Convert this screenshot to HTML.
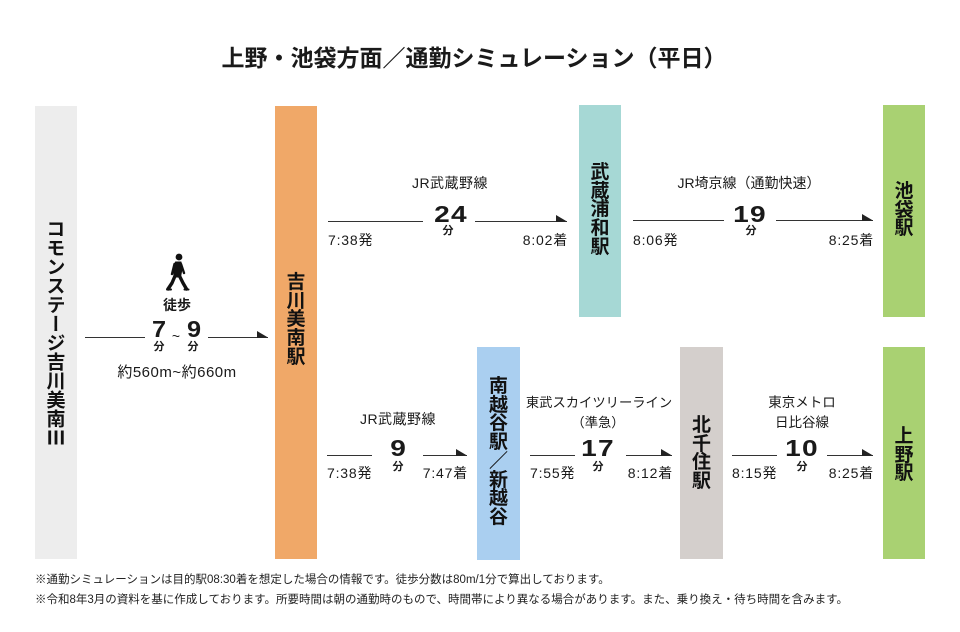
<!DOCTYPE html>
<html><head><meta charset="utf-8">
<style>
*{margin:0;padding:0;box-sizing:border-box}
html,body{width:960px;height:632px;background:#fff;overflow:hidden}
body{position:relative;font-family:"Liberation Sans","Noto Sans CJK JP",sans-serif;color:#1a1a1a}
.a{position:absolute;white-space:nowrap}
.bar{position:absolute}
.vt{position:absolute;text-align:center;font-weight:bold;font-size:19px;line-height:18.7px;color:#111}
.c{transform:translateX(-50%)}
.r{transform:translateX(-100%)}
.lb{font-size:14px;line-height:14px;letter-spacing:0.5px}
.tm{font-size:14px;line-height:14px;letter-spacing:0.8px}
.num{font-size:23px;line-height:23px;font-weight:bold;letter-spacing:1px;transform:translateX(-50%) scaleX(1.22)}
.fn{font-size:11px;line-height:11px;font-weight:bold}
.note{font-size:11.5px;line-height:12px;left:35px;color:#222}
</style></head><body>

<div class="a" style="left:0;width:948px;top:47px;text-align:center;font-size:23px;line-height:23px;font-weight:bold;">上野・池袋方面／通勤シミュレーション（平日）</div>

<!-- bars -->
<div class="bar" style="left:35px;top:106px;width:42px;height:453px;background:#ededed;display:flex;align-items:center;justify-content:center;">
  <span style="writing-mode:vertical-rl;font-size:19px;font-weight:bold;line-height:19px;color:#111;font-family:'Noto Sans CJK JP',sans-serif;">コモンステージ吉川美南Ⅲ</span>
</div>
<div class="bar" style="left:275px;top:106px;width:42px;height:453px;background:#f0a868;"></div>
<div class="bar" style="left:579px;top:105px;width:42px;height:212px;background:#a6d8d5;"></div>
<div class="bar" style="left:883px;top:105px;width:42px;height:212px;background:#a9d172;"></div>
<div class="bar" style="left:477px;top:347px;width:43px;height:213px;background:#aacff0;"></div>
<div class="bar" style="left:680px;top:347px;width:43px;height:212px;background:#d4cfcc;"></div>
<div class="bar" style="left:883px;top:347px;width:42px;height:212px;background:#a9d172;"></div>

<div class="vt" style="left:275px;width:42px;top:274px;">吉<br>川<br>美<br>南<br>駅</div>
<div class="vt" style="left:579px;width:42px;top:164px;">武<br>蔵<br>浦<br>和<br>駅</div>
<div class="vt" style="left:883px;width:42px;top:183px;">池<br>袋<br>駅</div>
<div class="vt" style="left:477px;width:43px;top:378px;">南<br>越<br>谷<br>駅<br>／<br>新<br>越<br>谷</div>
<div class="vt" style="left:680px;width:43px;top:417px;">北<br>千<br>住<br>駅</div>
<div class="vt" style="left:883px;width:42px;top:428px;">上<br>野<br>駅</div>

<!-- lines & arrows -->
<svg class="a" style="left:0;top:0" width="960" height="632" viewBox="0 0 960 632">
<g stroke="#333" stroke-width="1" fill="none">
<line x1="85" y1="337.5" x2="145" y2="337.5"/><line x1="208" y1="337.5" x2="268" y2="337.5"/>
<line x1="328" y1="221.5" x2="423" y2="221.5"/><line x1="475" y1="221.5" x2="567" y2="221.5"/>
<line x1="633" y1="220.5" x2="724" y2="220.5"/><line x1="776" y1="220.5" x2="873" y2="220.5"/>
<line x1="327" y1="455.5" x2="372" y2="455.5"/><line x1="423" y1="455.5" x2="467" y2="455.5"/>
<line x1="530" y1="455.5" x2="575" y2="455.5"/><line x1="626" y1="455.5" x2="672" y2="455.5"/>
<line x1="732" y1="455.5" x2="777" y2="455.5"/><line x1="827" y1="455.5" x2="873" y2="455.5"/>
</g>
<g fill="#222">
<polygon points="257,331 268,337.5 257,338"/>
<polygon points="556,215 567,221.5 556,222"/>
<polygon points="862,214 873,220.5 862,221"/>
<polygon points="456,449 467,455.5 456,456"/>
<polygon points="661,449 672,455.5 661,456"/>
<polygon points="862,449 873,455.5 862,456"/>
</g>
<!-- walker -->
<g fill="#111" stroke="#111" stroke-linecap="round" stroke-linejoin="round">
<circle cx="179" cy="257" r="3.4" stroke="none"/>
<polygon points="175.5,262 181,262 182,269 180.5,277 174,277 173.5,268" stroke-width="1"/>
<line x1="174.5" y1="264" x2="172" y2="274" stroke-width="2.4"/>
<line x1="181" y1="264" x2="184" y2="273" stroke-width="2.4"/>
<polyline points="175,276 172,283 168,289" stroke-width="3.4" fill="none"/>
<polyline points="179.5,276 183,283 186.5,289" stroke-width="3.4" fill="none"/>
<line x1="167" y1="289.5" x2="171" y2="289.5" stroke-width="2"/>
<line x1="184.5" y1="289.5" x2="188.5" y2="289.5" stroke-width="2"/>
</g>
</svg>

<!-- walk -->
<div class="a c" style="left:177px;top:298px;font-size:14px;line-height:14px;font-weight:bold;">徒歩</div>
<div class="a num" style="left:159px;top:318px;letter-spacing:0;transform:translateX(-50%) scaleX(1.1);">7</div>
<div class="a c" style="left:176px;top:329px;font-size:14px;line-height:14px;">~</div>
<div class="a num" style="left:193.5px;top:318px;letter-spacing:0;transform:translateX(-50%) scaleX(1.1);">9</div>
<div class="a c fn" style="left:159px;top:342px;">分</div>
<div class="a c fn" style="left:193px;top:342px;">分</div>
<div class="a c" style="left:177px;top:365px;font-size:15px;line-height:15px;letter-spacing:0.5px;">約560m~約660m</div>

<!-- top 1 -->
<div class="a c lb" style="left:450px;top:176px;">JR武蔵野線</div>
<div class="a num" style="left:451px;top:203px;">24</div>
<div class="a c fn" style="left:448px;top:226px;">分</div>
<div class="a tm" style="left:328px;top:233px;">7:38発</div>
<div class="a r tm" style="left:568px;top:233px;">8:02着</div>

<!-- top 2 -->
<div class="a c lb" style="left:749px;top:176px;letter-spacing:0;">JR埼京線（通勤快速）</div>
<div class="a num" style="left:750px;top:203px;">19</div>
<div class="a c fn" style="left:751px;top:226px;">分</div>
<div class="a tm" style="left:633px;top:233px;">8:06発</div>
<div class="a r tm" style="left:874px;top:233px;">8:25着</div>

<!-- bottom 1 -->
<div class="a c lb" style="left:398px;top:412px;">JR武蔵野線</div>
<div class="a num" style="left:398px;top:437px;letter-spacing:0;">9</div>
<div class="a c fn" style="left:398px;top:462px;">分</div>
<div class="a tm" style="left:327px;top:466px;">7:38発</div>
<div class="a r tm" style="left:468px;top:466px;">7:47着</div>

<!-- bottom 2 -->
<div class="a c" style="left:599px;top:396px;font-size:13.3px;line-height:14px;">東武スカイツリーライン</div>
<div class="a c" style="left:598px;top:416px;font-size:13.3px;line-height:14px;">（準急）</div>
<div class="a num" style="left:598px;top:437px;">17</div>
<div class="a c fn" style="left:598px;top:462px;">分</div>
<div class="a tm" style="left:530px;top:466px;">7:55発</div>
<div class="a r tm" style="left:673px;top:466px;">8:12着</div>

<!-- bottom 3 -->
<div class="a c" style="left:802px;top:396px;font-size:13.5px;line-height:14px;">東京メトロ</div>
<div class="a c" style="left:802px;top:416px;font-size:13.5px;line-height:14px;">日比谷線</div>
<div class="a num" style="left:802px;top:437px;">10</div>
<div class="a c fn" style="left:802px;top:462px;">分</div>
<div class="a tm" style="left:732px;top:466px;">8:15発</div>
<div class="a r tm" style="left:874px;top:466px;">8:25着</div>

<!-- notes -->
<div class="a note" style="top:574px;">※通勤シミュレーションは目的駅08:30着を想定した場合の情報です。徒歩分数は80m/1分で算出しております。</div>
<div class="a note" style="top:594px;">※令和8年3月の資料を基に作成しております。所要時間は朝の通勤時のもので、時間帯により異なる場合があります。また、乗り換え・待ち時間を含みます。</div>

</body></html>
